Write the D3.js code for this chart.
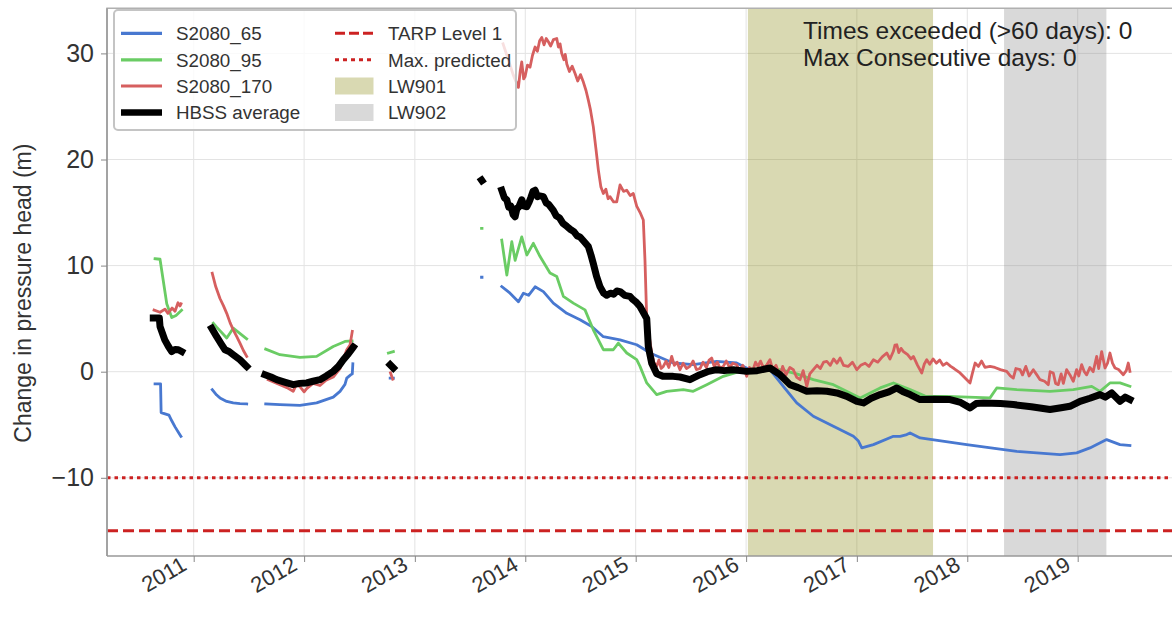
<!DOCTYPE html>
<html><head><meta charset="utf-8">
<script src="https://cdn.jsdelivr.net/npm/d3@7"></script>
<style>
body{margin:0;background:#fff}
svg{display:block}
text{font-family:"Liberation Sans",Arial,Helvetica,sans-serif}
</style>
</head><body>
<svg id="chart" width="1172" height="621"></svg>
<script>
// ---- data (dates as decimal years, values in m) ----
const yearTicks = [2011, 2012, 2013, 2014, 2015, 2016, 2017, 2018, 2019];
const yTicks = [-10, 0, 10, 20, 30];
const tarpLevel1 = -15;
const maxPredicted = -10;
const lw901 = [2016.016, 2017.690];
const lw902 = [2018.333, 2019.260];
const statsText = ["Times exceeded (>60 days): 0", "Max Consecutive days: 0"];

const s2080_65 = [
  [2010.650,-1.15],[2010.700,-1.15],[2010.705,-3.85],[2010.776,-4.1],[2010.800,-4.6],[2010.831,-5.2],[2010.861,-5.7],[2010.885,-6.1],
  null,
  [2011.168,-1.69],[2011.208,-2.2],[2011.238,-2.47],[2011.299,-2.8],[2011.358,-2.94],[2011.419,-3.0],[2011.480,-3.04],
  null,
  [2011.652,-3.04],[2011.781,-3.1],[2011.962,-3.17],[2012.113,-2.94],[2012.263,-2.4],[2012.324,-1.85],[2012.369,-1.2],[2012.385,-0.6],[2012.420,-0.3],[2012.435,-0.2],[2012.440,0.75],
  null,
  [2012.777,-0.6],[2012.806,-0.6],
  null,
  [2013.604,8.9],[2013.608,8.9],
  null,
  [2013.787,8.02],[2013.862,7.4],[2013.938,6.6],[2013.983,7.4],[2014.030,7.2],[2014.089,8.0],[2014.164,7.55],[2014.254,6.46],[2014.376,5.5],[2014.496,4.9],
  [2014.602,4.26],[2014.707,3.3],[2014.858,3.0],[2015.009,2.54],[2015.084,2.07],[2015.129,1.76],[2015.340,0.82],[2015.521,0.66],[2015.733,0.97],
  [2015.914,0.82],[2016.034,0.19],[2016.215,0.19],[2016.336,-1.38],[2016.457,-2.94],[2016.607,-4.2],[2016.788,-5.15],[2016.969,-6.09],
  [2017.012,-6.5],[2017.045,-7.18],[2017.150,-6.87],[2017.331,-6.09],[2017.392,-6.09],[2017.452,-5.93],[2017.482,-5.77],[2017.573,-6.24],
  [2017.995,-6.87],[2018.448,-7.5],[2018.840,-7.81],[2018.991,-7.65],[2019.111,-7.18],[2019.262,-6.4],[2019.383,-6.87],[2019.473,-6.96]
];

const s2080_95 = [
  [2010.650,10.65],[2010.695,10.6],[2010.756,6.4],[2010.801,5.1],[2010.840,5.3],[2010.890,5.8],
  null,
  [2011.177,4.58],[2011.208,4.2],[2011.299,3.17],[2011.358,4.1],[2011.480,3.1],
  null,
  [2011.652,2.13],[2011.781,1.6],[2011.962,1.35],[2012.113,1.44],[2012.263,2.38],[2012.369,2.85],[2012.433,2.9],
  null,
  [2012.761,1.76],[2012.806,1.9],
  null,
  [2013.604,13.5],[2013.608,13.5],
  null,
  [2013.787,12.4],[2013.802,11.3],[2013.833,9.1],[2013.878,12.26],[2013.908,10.5],[2013.968,12.7],[2014.014,11.0],[2014.073,12.1],
  [2014.134,10.85],[2014.224,9.3],[2014.285,8.97],[2014.345,7.1],[2014.435,6.46],[2014.541,5.83],[2014.616,3.95],[2014.707,2.07],
  [2014.797,2.07],[2014.843,2.7],[2014.919,1.76],[2015.009,1.13],[2015.039,0.5],[2015.100,-1.06],[2015.190,-2.16],[2015.281,-1.85],
  [2015.431,-1.69],[2015.521,-1.85],[2015.643,-1.22],[2015.793,-0.44],[2015.944,0.03],[2016.125,0.2],[2016.306,0.19],[2016.457,-0.2],
  [2016.607,-0.75],[2016.788,-1.22],[2017.030,-2.47],[2017.211,-1.53],[2017.331,-1.06],[2017.482,-1.69],[2017.618,-2.3],[2017.814,-2.32],
  [2018.206,-2.47],[2018.267,-1.53],[2018.448,-1.69],[2018.749,-1.85],[2018.960,-1.69],[2019.127,-1.38],[2019.202,-1.85],[2019.292,-1.06],
  [2019.383,-1.06],[2019.473,-1.38]
];

const s2080_170 = [
  [2010.641,5.8],[2010.695,5.6],[2010.740,5.9],[2010.767,5.5],[2010.804,6.0],[2010.831,5.7],[2010.858,6.5],[2010.876,6.2],[2010.885,6.4],
  null,
  [2011.168,9.28],[2011.200,8.0],[2011.238,6.9],[2011.270,6.2],[2011.299,5.5],[2011.330,4.6],[2011.358,3.95],[2011.390,3.3],[2011.419,2.7],[2011.450,2.0],[2011.480,1.44],
  null,
  [2011.675,-0.75],[2011.781,-1.22],[2011.844,-1.5],[2011.901,-1.85],[2011.930,-1.2],[2011.962,-1.4],[2012.000,-1.9],[2012.023,-1.6],
  [2012.080,-1.1],[2012.143,-1.3],[2012.198,-0.8],[2012.263,-0.5],[2012.324,0.3],[2012.385,2.07],[2012.414,2.5],[2012.435,3.8],
  null,
  [2012.780,-0.1],[2012.800,-0.7],
  null,
  [2013.799,30.9],[2013.844,29.5],[2013.890,28.0],[2013.938,26.8],[2013.955,28.4],[2013.968,29.2],[2013.985,27.6],[2013.998,27.8],[2014.020,28.9],
  [2014.043,28.7],[2014.065,29.8],[2014.089,30.6],[2014.110,30.2],[2014.130,31.2],[2014.149,31.5],[2014.170,30.8],[2014.190,31.4],[2014.209,31.1],
  [2014.230,30.7],[2014.255,31.3],[2014.285,31.4],[2014.300,30.6],[2014.315,30.9],[2014.330,30.0],[2014.350,29.4],[2014.362,29.9],[2014.376,29.0],
  [2014.400,28.3],[2014.425,28.8],[2014.451,28.1],[2014.475,27.4],[2014.500,28.0],[2014.526,27.3],[2014.550,26.5],[2014.571,25.6],
  [2014.590,24.7],[2014.616,23.1],[2014.640,21.0],[2014.662,19.0],[2014.685,17.4],[2014.707,16.8],[2014.730,17.2],[2014.750,16.3],[2014.767,16.5],
  [2014.800,16.0],[2014.828,16.0],[2014.845,16.9],[2014.858,17.6],[2014.890,17.0],[2014.919,17.1],[2014.950,16.6],[2014.978,16.8],
  [2015.009,15.6],[2015.040,15.0],[2015.069,14.3],[2015.084,10.5],[2015.100,4.9],
  [2015.145,1.76],[2015.165,0.9],[2015.190,0.5],[2015.210,1.1],[2015.230,0.3],[2015.250,0.5],[2015.275,1.0],[2015.300,0.4],[2015.326,1.44],
  [2015.350,0.6],[2015.375,0.9],[2015.401,0.19],[2015.430,0.8],[2015.460,0.3],[2015.491,0.5],[2015.520,1.0],[2015.550,0.2],[2015.582,0.3],
  [2015.610,0.9],[2015.640,0.4],[2015.665,1.1],[2015.688,1.29],[2015.710,0.5],[2015.740,0.9],[2015.765,0.3],[2015.793,0.5],[2015.820,1.0],
  [2015.850,0.4],[2015.880,0.8],[2015.914,0.66],[2015.940,0.1],[2015.970,0.6],[2016.005,-0.44],[2016.030,0.4],[2016.060,0.1],[2016.085,0.9],
  [2016.107,0.5],[2016.130,1.0],[2016.160,0.3],[2016.190,0.7],[2016.215,1.13],[2016.240,0.2],[2016.270,0.6],[2016.306,-0.44],[2016.330,0.5],
  [2016.360,-0.3],[2016.395,0.4],[2016.426,0.19],[2016.455,-0.5],[2016.487,-0.75],[2016.515,0.1],[2016.548,-1.38],[2016.575,-0.2],[2016.607,0.19],
  [2016.640,0.6],[2016.670,0.3],[2016.700,0.9],[2016.729,0.97],[2016.760,0.6],[2016.790,1.2],[2016.820,0.8],[2016.849,1.29],[2016.880,0.6],
  [2016.921,0.5],[2016.960,0.9],[2017.000,0.19],[2017.035,0.6],[2017.075,0.8],[2017.110,0.5],[2017.150,1.13],[2017.190,0.9],[2017.230,1.4],
  [2017.271,1.76],[2017.300,1.2],[2017.330,1.9],[2017.345,2.5],[2017.362,2.54],[2017.380,1.8],[2017.400,2.2],[2017.422,1.9],[2017.460,1.6],
  [2017.490,1.2],[2017.512,1.44],[2017.550,0.6],[2017.588,-0.12],[2017.610,0.7],[2017.633,1.13],[2017.660,0.7],[2017.690,1.2],[2017.720,0.8],
  [2017.750,1.1],[2017.780,0.6],[2017.814,0.82],[2017.850,0.5],[2017.880,0.3],[2017.935,-0.12],[2017.980,-0.6],[2018.025,-1.06],[2018.045,-0.2],
  [2018.071,0.82],[2018.100,0.5],[2018.130,1.0],[2018.160,0.4],[2018.206,0.5],[2018.250,0.4],[2018.300,0.2],[2018.357,0.03],[2018.390,-0.4],
  [2018.417,-0.6],[2018.440,0.3],[2018.478,0.19],[2018.500,-0.3],[2018.530,0.5],[2018.560,-0.4],[2018.598,0.19],[2018.630,-0.3],[2018.659,-0.75],
  [2018.700,-0.9],[2018.734,-1.22],[2018.750,0.0],[2018.779,-0.12],[2018.800,-1.1],[2018.824,-1.22],[2018.850,-0.2],[2018.870,-1.1],[2018.900,0.19],
  [2018.930,-0.3],[2018.960,-0.91],[2018.990,0.2],[2019.010,-0.4],[2019.036,0.66],[2019.060,0.0],[2019.081,-0.3],[2019.110,0.4],[2019.140,0.0],
  [2019.172,1.44],[2019.190,0.3],[2019.217,1.9],[2019.247,0.35],[2019.270,0.8],[2019.292,1.76],[2019.315,0.8],[2019.338,0.35],[2019.370,0.2],
  [2019.413,-0.28],[2019.440,0.1],[2019.458,0.82],[2019.473,0.03]
];

const hbssAverage = [
  [2010.634,5.05],[2010.689,5.05],[2010.695,4.26],[2010.738,3.0],[2010.770,2.4],[2010.801,1.9],[2010.831,2.1],[2010.861,2.07],[2010.891,1.9],
  null,
  [2011.163,4.1],[2011.208,3.3],[2011.250,2.6],[2011.283,2.07],[2011.320,1.9],[2011.358,1.6],[2011.419,1.13],[2011.480,0.5],
  null,
  [2011.645,-0.28],[2011.700,-0.5],[2011.751,-0.75],[2011.830,-1.0],[2011.901,-1.22],[2011.960,-1.1],[2012.023,-1.06],[2012.080,-0.9],
  [2012.143,-0.75],[2012.200,-0.4],[2012.263,0.03],[2012.310,0.5],[2012.354,1.13],[2012.400,1.7],[2012.444,2.32],
  null,
  [2012.777,0.66],[2012.806,0.35],
  null,
  [2013.604,18.06],[2013.608,18.0],
  null,
  [2013.787,17.1],[2013.810,16.4],[2013.833,16.2],[2013.850,15.5],[2013.870,15.6],[2013.890,14.8],[2013.908,14.6],[2013.925,15.4],[2013.940,15.5],
  [2013.968,16.2],[2013.990,15.6],[2014.014,15.55],[2014.035,16.0],[2014.050,16.4],[2014.070,17.0],[2014.089,17.1],[2014.110,16.5],
  [2014.120,16.6],[2014.164,16.5],[2014.190,15.9],[2014.210,15.8],[2014.254,15.2],[2014.280,14.7],[2014.310,14.5],[2014.340,14.0],[2014.376,13.7],
  [2014.410,13.4],[2014.440,13.2],[2014.470,12.8],[2014.496,12.7],[2014.530,12.3],[2014.571,11.8],[2014.595,11.0],
  [2014.616,10.2],[2014.645,9.0],[2014.677,8.0],[2014.710,7.4],[2014.738,7.2],[2014.770,7.4],[2014.800,7.3],[2014.830,7.6],[2014.858,7.55],
  [2014.900,7.2],[2014.948,7.1],[2014.975,6.8],[2015.000,6.6],[2015.039,6.15],
  [2015.100,5.0],[2015.114,2.38],[2015.145,0.8],[2015.190,-0.2],[2015.250,-0.44],[2015.340,-0.44],[2015.401,-0.5],[2015.491,-0.75],
  [2015.582,-0.28],[2015.650,0.0],[2015.733,0.19],[2015.800,0.1],[2015.883,0.19],[2016.005,0.03],[2016.100,0.1],[2016.215,0.35],[2016.306,-0.28],
  [2016.396,-1.22],[2016.470,-1.5],[2016.548,-1.85],[2016.640,-1.8],[2016.729,-1.85],[2016.820,-2.0],[2016.910,-2.32],[2017.000,-2.8],[2017.060,-2.94],
  [2017.130,-2.5],[2017.211,-2.16],[2017.290,-1.9],[2017.362,-1.53],[2017.420,-1.9],[2017.482,-2.16],[2017.573,-2.63],[2017.700,-2.6],[2017.844,-2.63],
  [2017.940,-2.9],[2018.025,-3.41],[2018.080,-3.0],[2018.146,-2.94],[2018.300,-3.0],[2018.417,-3.1],[2018.580,-3.3],[2018.749,-3.57],[2018.850,-3.4],
  [2018.930,-3.26],[2019.021,-2.79],[2019.110,-2.5],[2019.202,-2.16],[2019.250,-2.4],[2019.308,-2.0],[2019.383,-2.79],[2019.430,-2.4],[2019.473,-2.63]
];

// ---- helpers ----
function decToDate(t) {
  const y = Math.floor(t);
  const a = Date.UTC(y, 0, 1), b = Date.UTC(y + 1, 0, 1);
  return new Date(a + (t - y) * (b - a));
}

const svg = d3.select("#chart");
const plot = {left: 107, right: 1180, top: 8.3, bottom: 556};

const x = d3.scaleUtc().domain([decToDate(2011), decToDate(2019)]).range([193.7, 1077.7]);
const y = d3.scaleLinear().domain([0, 30]).range([371.7, 53.4]);

svg.append("defs").append("clipPath").attr("id", "clip")
  .append("rect").attr("x", plot.left).attr("y", plot.top)
  .attr("width", plot.right - plot.left).attr("height", plot.bottom - plot.top);

// grid
const grid = svg.append("g");
grid.selectAll("line.gx").data(yearTicks).join("line")
  .attr("x1", d => x(decToDate(d))).attr("x2", d => x(decToDate(d)))
  .attr("y1", plot.top).attr("y2", plot.bottom)
  .attr("stroke", "#e3e3e3").attr("stroke-width", 1);
grid.selectAll("line.gy").data(yTicks).join("line")
  .attr("x1", plot.left).attr("x2", plot.right)
  .attr("y1", d => y(d)).attr("y2", d => y(d))
  .attr("stroke", "#e3e3e3").attr("stroke-width", 1);

const g = svg.append("g").attr("clip-path", "url(#clip)");

// spans
const spans = [
  {r: lw901, color: "#808000", op: 0.3},
  {r: lw902, color: "#808080", op: 0.3}
];
g.selectAll("rect.span").data(spans).join("rect")
  .attr("x", d => x(decToDate(d.r[0])))
  .attr("width", d => x(decToDate(d.r[1])) - x(decToDate(d.r[0])))
  .attr("y", plot.top).attr("height", plot.bottom - plot.top)
  .attr("fill", d => d.color).attr("fill-opacity", d => d.op);

// threshold lines
g.append("line").attr("x1", plot.left).attr("x2", plot.right)
  .attr("y1", y(tarpLevel1)).attr("y2", y(tarpLevel1))
  .attr("stroke", "#cc2222").attr("stroke-width", 3).attr("stroke-dasharray", "11,5");
g.append("line").attr("x1", plot.left).attr("x2", plot.right)
  .attr("y1", y(maxPredicted)).attr("y2", y(maxPredicted))
  .attr("stroke", "#cc2222").attr("stroke-width", 3).attr("stroke-dasharray", "3.5,4");

// series
const line = d3.line().defined(d => d !== null)
  .x(d => x(decToDate(d[0]))).y(d => y(d[1]));
const series = [
  {name: "S2080_65", data: s2080_65, color: "#4878d0", w: 2.8},
  {name: "S2080_95", data: s2080_95, color: "#6acc64", w: 2.8},
  {name: "S2080_170", data: s2080_170, color: "#d65f5f", w: 2.8},
  {name: "HBSS average", data: hbssAverage, color: "#000000", w: 7}
];
g.selectAll("path.series").data(series).join("path")
  .attr("d", d => line(d.data))
  .attr("fill", "none").attr("stroke", d => d.color)
  .attr("stroke-width", d => d.w).attr("stroke-linejoin", "round").attr("stroke-linecap", "square");

// frame
svg.append("path")
  .attr("d", `M${plot.left},${plot.bottom}V${plot.top}H${plot.right}`)
  .attr("fill", "none").attr("stroke", "#b0b0b0").attr("stroke-width", 1.5);
svg.append("line").attr("x1", plot.left).attr("x2", plot.right)
  .attr("y1", plot.bottom).attr("y2", plot.bottom)
  .attr("stroke", "#999").attr("stroke-width", 1.5);
svg.append("line").attr("x1", plot.left).attr("x2", plot.left)
  .attr("y1", plot.top).attr("y2", plot.bottom)
  .attr("stroke", "#999").attr("stroke-width", 1.5);

// axes
const yAxis = d3.axisLeft(y).tickValues(yTicks).tickSize(6).tickPadding(7)
  .tickFormat(d => d < 0 ? "\u2212" + Math.abs(d) : d);
const ya = svg.append("g").attr("transform", `translate(${plot.left},0)`).call(yAxis);
ya.select(".domain").remove();
ya.selectAll(".tick line").attr("stroke", "#888");
ya.selectAll(".tick text").attr("font-size", 25).attr("fill", "#333")
  .attr("font-family", "Liberation Sans, Arial, sans-serif");

const xAxis = d3.axisBottom(x).tickValues(yearTicks.map(decToDate)).tickSize(6)
  .tickFormat(d3.utcFormat("%Y"));
const xa = svg.append("g").attr("transform", `translate(0,${plot.bottom})`).call(xAxis);
xa.select(".domain").remove();
xa.selectAll(".tick line").attr("stroke", "#888");
xa.selectAll(".tick text").attr("font-size", 22).attr("fill", "#333")
  .attr("font-family", "Liberation Sans, Arial, sans-serif")
  .attr("text-anchor", "end").attr("dy", null).attr("y", 0)
  .attr("transform", "translate(-6,13) rotate(-30)");

// y label
svg.append("text").attr("transform", `translate(31,${(plot.top + plot.bottom) / 2 + 11}) rotate(-90)`)
  .attr("text-anchor", "middle").attr("font-size", 23).attr("fill", "#333")
  .text("Change in pressure head (m)");

// stats text
svg.selectAll("text.stats").data(statsText).join("text")
  .attr("x", 803).attr("y", (d, i) => 38.5 + i * 27)
  .attr("font-size", 24.5).attr("fill", "#222").text(d => d);

// legend
const lg = svg.append("g");
lg.append("rect").attr("x", 114).attr("y", 10).attr("width", 402).attr("height", 120).attr("rx", 4)
  .attr("fill", "#fff").attr("fill-opacity", 0.8).attr("stroke", "#c4c4c4").attr("stroke-width", 2);
const rowsY = [33.3, 59.8, 86, 112.5];
series.forEach((s, i) => {
  lg.append("line").attr("x1", 121).attr("x2", 162).attr("y1", rowsY[i]).attr("y2", rowsY[i])
    .attr("stroke", s.color).attr("stroke-width", s.w === 7 ? 6.5 : 3.2);
  lg.append("text").attr("x", 176).attr("y", rowsY[i]).attr("dy", "0.36em")
    .attr("font-size", 18.8).attr("fill", "#333").text(s.name);
});
const leg2 = [
  {name: "TARP Level 1", type: "dash"},
  {name: "Max. predicted", type: "dot"},
  {name: "LW901", type: "span", span: spans[0]},
  {name: "LW902", type: "span", span: spans[1]}
];
leg2.forEach((e, i) => {
  if (e.type === "span") {
    lg.append("rect").attr("x", 335).attr("y", rowsY[i] - 8.5).attr("width", 38.5).attr("height", 17)
      .attr("fill", e.span.color).attr("fill-opacity", e.span.op);
  } else {
    lg.append("line").attr("x1", 335).attr("x2", 374).attr("y1", rowsY[i]).attr("y2", rowsY[i])
      .attr("stroke", "#cc2222").attr("stroke-width", 3)
      .attr("stroke-dasharray", e.type === "dash" ? "10,4" : "4,4");
  }
  lg.append("text").attr("x", 388).attr("y", rowsY[i]).attr("dy", "0.36em")
    .attr("font-size", 18.8).attr("fill", "#333").text(e.name);
});
</script>
</body></html>
